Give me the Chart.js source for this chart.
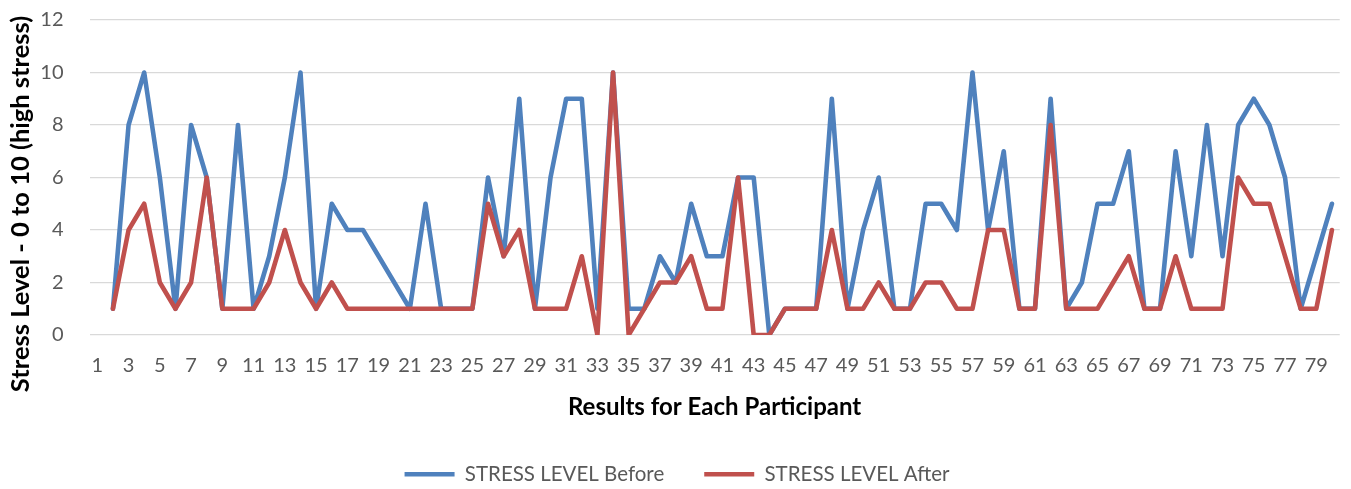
<!DOCTYPE html>
<html>
<head>
<meta charset="utf-8">
<script src="https://cdn.jsdelivr.net/npm/chart.js@4.4.1/dist/chart.umd.min.js"></script>
<style>
html,body{margin:0;padding:0;background:#ffffff;}
#wrap{width:1351px;height:489px;position:relative;}
</style>
</head>
<body>
<div id="wrap"><canvas id="c" width="1351" height="489"></canvas></div>
<script>
const categories = ['1','2','3','4','5','6','7','8','9','10','11','12','13','14','15','16','17','18','19','20',
  '21','22','23','24','25','26','27','28','29','30','31','32','33','34','35','36','37','38','39','40',
  '41','42','43','44','45','46','47','48','49','50','51','52','53','54','55','56','57','58','59','60',
  '61','62','63','64','65','66','67','68','69','70','71','72','73','74','75','76','77','78','79','80'];

const stressBefore = [null,1,8,10,6,1,8,6,1,8,1,3,6,10,1,5,4,4,3,2,
  1,5,1,1,1,6,3,9,1,6,9,9,1,10,1,1,3,2,5,3,
  3,6,6,0,1,1,1,9,1,4,6,1,1,5,5,4,10,4,7,1,
  1,9,1,2,5,5,7,1,1,7,3,8,3,8,9,8,6,1,3,5];

const stressAfter = [null,1,4,5,2,1,2,6,1,1,1,2,4,2,1,2,1,1,1,1,
  1,1,1,1,1,5,3,4,1,1,1,3,0,10,0,1,2,2,3,1,
  1,6,0,0,1,1,1,4,1,1,2,1,1,2,2,1,1,4,4,1,
  1,8,1,1,1,2,3,1,1,3,1,1,1,6,5,5,3,1,1,4];

const yTicks = [0,2,4,6,8,10,12];
const seriesNames = ['STRESS LEVEL Before','STRESS LEVEL After'];
const yTitle = 'Stress Level - 0 to 10 (high stress)';
const xTitle = 'Results for Each Participant';

const FONT = 'Lato, "Open Sans", "Noto Sans", sans-serif';

const legendFix = {
  id: 'legendFix',
  afterInit(chart) {
    const lg = chart.legend;
    if (!lg) return;
    const orig = lg.fit.bind(lg);
    lg.fit = function () { orig(); this.height = 65; };
  },
  afterLayout(chart) {
    const lg = chart.legend;
    if (!lg) return;
    lg.left += 7;
    lg.right += 7;
  }
};

const yTitlePlugin = {
  id: 'yTitlePlugin',
  afterDraw(chart) {
    const ctx = chart.ctx;
    ctx.save();
    ctx.translate(21, 204);
    ctx.rotate(-Math.PI / 2);
    ctx.font = 'bold 25.5px ' + FONT;
    ctx.fillStyle = '#000000';
    ctx.textAlign = 'center';
    ctx.textBaseline = 'middle';
    ctx.fillText(yTitle, 0, 0);
    ctx.restore();
  }
};

new Chart(document.getElementById('c'), {
  type: 'line',
  data: {
    labels: categories,
    datasets: [
      {
        label: seriesNames[0],
        data: stressBefore,
        order: 1,
        borderColor: '#4F81BD',
        backgroundColor: '#4F81BD',
        borderWidth: 4.6,
        pointRadius: 0,
        pointHoverRadius: 0,
        tension: 0,
        borderJoinStyle: 'round',
        borderCapStyle: 'round',
        spanGaps: false
      },
      {
        label: seriesNames[1],
        data: stressAfter,
        order: 0,
        borderColor: '#C0504D',
        backgroundColor: '#C0504D',
        borderWidth: 4.6,
        pointRadius: 0,
        pointHoverRadius: 0,
        tension: 0,
        borderJoinStyle: 'round',
        borderCapStyle: 'round',
        spanGaps: false
      }
    ]
  },
  options: {
    responsive: false,
    animation: false,
    devicePixelRatio: 1,
    layout: { padding: { top: 20, right: 11, bottom: 0, left: 0 } },
    plugins: {
      legend: {
        position: 'bottom',
        labels: {
          usePointStyle: true,
          pointStyle: 'line',
          pointStyleWidth: 50,
          padding: 40,
          color: '#595959',
          font: { family: FONT, size: 20.5 },
          sort: function (a, b) { return a.datasetIndex - b.datasetIndex; }
        }
      },
      tooltip: { enabled: false }
    },
    scales: {
      x: {
        type: 'category',
        offset: true,
        grid: { display: false, drawTicks: false },
        border: { display: false },
        ticks: {
          autoSkip: false,
          maxRotation: 0,
          minRotation: 0,
          padding: 19,
          color: '#595959',
          font: { family: FONT, size: 20 },
          callback: function (val, idx) { return idx % 2 === 0 ? categories[idx] : ''; }
        },
        title: {
          display: true,
          text: xTitle,
          color: '#000000',
          font: { family: FONT, size: 24, weight: 'bold' },
          padding: { top: 0, bottom: 2.6 }
        },
        afterFit: function (scale) { scale.height = 89; }
      },
      y: {
        min: 0,
        max: 12,
        grid: { color: '#D9D9D9', lineWidth: 1.3, drawTicks: true, tickLength: 26, tickColor: 'rgba(0,0,0,0)' },
        border: { display: false },
        afterBuildTicks: function (scale) { scale.ticks = yTicks.map(v => ({ value: v })); },
        ticks: {
          padding: 0,
          color: '#595959',
          font: { family: FONT, size: 20 }
        },
        title: { display: false, text: yTitle },
        afterFit: function (scale) { scale.width = 89.5; }
      }
    }
  },
  plugins: [legendFix, yTitlePlugin]
});
</script>
</body>
</html>
